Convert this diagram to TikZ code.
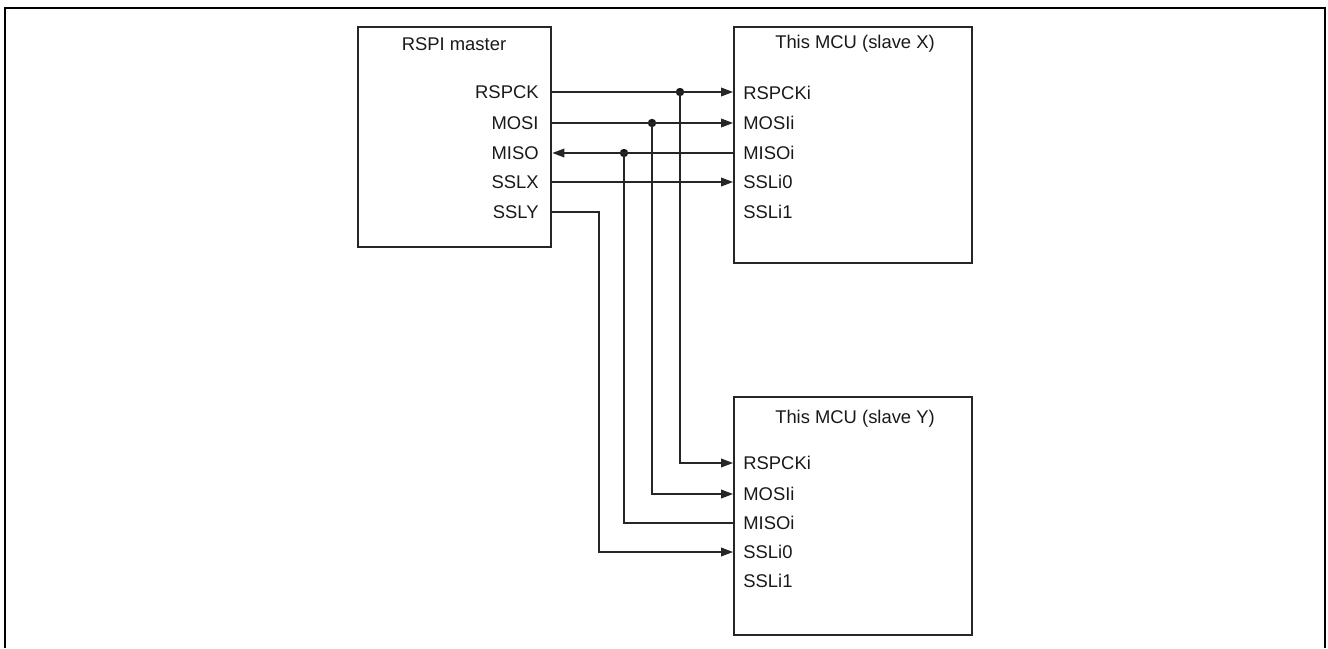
\documentclass[tikz,border=0pt]{standalone}
\usepackage{fontspec}
\setmainfont{Liberation Sans}
\usetikzlibrary{arrows.meta}
\begin{document}
\begin{tikzpicture}[x=0.5pt,y=-0.5pt,
  box/.style={draw=black!85,line width=1.2pt,rectangle,inner sep=0pt,anchor=north west},
  pinl/.style={anchor=east,inner sep=0pt,font=\fontsize{9.2}{10}\selectfont,text=black!90},
  pinr/.style={anchor=west,inner sep=0pt,font=\fontsize{9.2}{10}\selectfont,text=black!90},
  ttl/.style={inner sep=0pt,font=\fontsize{9.2}{10}\selectfont,text=black!90},
  wire/.style={draw=black!85,line width=0.6pt},
  arr/.style={wire,-{Triangle[length=6pt,width=4.4pt]}},
  dot/.style={circle,fill=black!90,inner sep=0pt,minimum size=4.2pt}]
\useasboundingbox (0,0) rectangle (1328,648);
\draw[line width=1.1pt] (5,648) -- (5,8) -- (1325,8) -- (1325,648);
% boxes
\node[box,minimum width=96.5pt,minimum height=110pt] (M) at (357,26) {};
\node[box,minimum width=119pt,minimum height=118pt] (X) at (733,26) {};
\node[box,minimum width=119pt,minimum height=119pt] (Y) at (733,396) {};
% titles
\node[ttl] (Mt) at (454,44) {RSPI master};
\node[ttl] (Xt) at (855,44) {This MCU (slave X)};
\node[ttl] (Yt) at (855,419) {This MCU (slave Y)};
% master pins
\node[pinl] (m1) at (539,92) {RSPCK};
\node[pinl] (m2) at (539,123) {MOSI};
\node[pinl] (m3) at (539,153) {MISO};
\node[pinl] (m4) at (539,182) {SSLX};
\node[pinl] (m5) at (539,212) {SSLY};
% slave X pins
\node[pinr] (x1) at (743,93) {RSPCKi};
\node[pinr] (x2) at (743,123) {MOSIi};
\node[pinr] (x3) at (743,153) {MISOi};
\node[pinr] (x4) at (743,182) {SSLi0};
\node[pinr] (x5) at (743,212) {SSLi1};
% slave Y pins
\node[pinr] (y1) at (743,463) {RSPCKi};
\node[pinr] (y2) at (743,494) {MOSIi};
\node[pinr] (y3) at (743,523) {MISOi};
\node[pinr] (y4) at (743,552) {SSLi0};
\node[pinr] (y5) at (743,581) {SSLi1};
% edge coordinates
\coordinate (M1) at (M.east |- m1);
\coordinate (M2) at (M.east |- m2);
\coordinate (M3) at (M.east |- m3);
\coordinate (M4) at (M.east |- m4);
\coordinate (M5) at (M.east |- m5);
\coordinate (X1) at (X.west |- m1);
\coordinate (X2) at (X.west |- m2);
\coordinate (X3) at (X.west |- m3);
\coordinate (X4) at (X.west |- m4);
\coordinate (Y1) at (Y.west |- y1);
\coordinate (Y2) at (Y.west |- y2);
\coordinate (Y3) at (Y.west |- y3);
\coordinate (Y4) at (Y.west |- y4);
% junctions
\node[dot] (d1) at (680,92) {};
\node[dot] (d2) at (652,123) {};
\node[dot] (d3) at (624,153) {};
\coordinate (b5) at (599,212);
% wires
\draw[arr] (M1) -- (X1);
\draw[arr] (M2) -- (X2);
\draw[arr] (X3) -- (M3);
\draw[arr] (M4) -- (X4);
\draw[arr] (d1.center) |- (Y1);
\draw[arr] (d2.center) |- (Y2);
\draw[wire] (Y3) -| (d3.center);
\draw[arr] (M5) -- (b5) |- (Y4);
\end{tikzpicture}
\end{document}
